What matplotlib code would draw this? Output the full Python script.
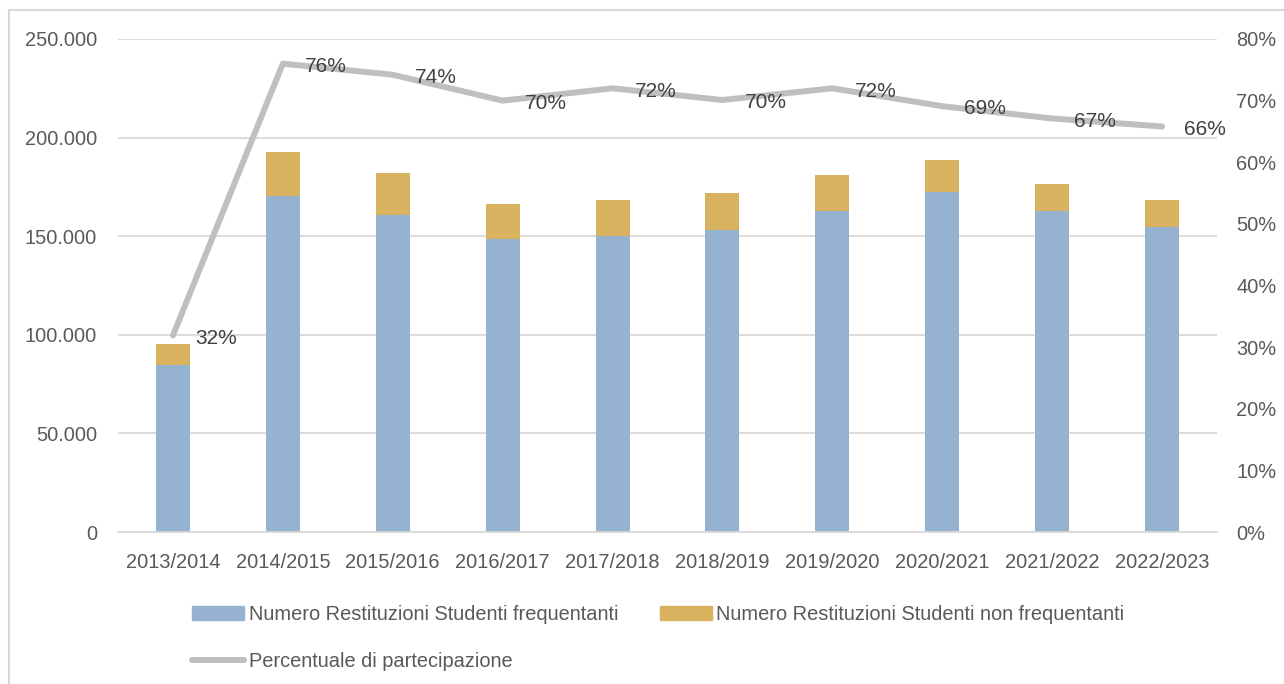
import matplotlib
matplotlib.use("Agg")
import matplotlib.pyplot as plt
from matplotlib.patches import Rectangle, Patch
from matplotlib.lines import Line2D
from matplotlib.ticker import FuncFormatter, MultipleLocator
import numpy as np

categories = ["2013/2014", "2014/2015", "2015/2016", "2016/2017", "2017/2018",
              "2018/2019", "2019/2020", "2020/2021", "2021/2022", "2022/2023"]
frequentanti = [84600, 170200, 160900, 148700, 149900, 153100, 162600, 172400, 162600, 154600]
non_frequentanti = [10900, 22400, 21200, 17600, 18400, 18600, 18400, 16200, 13800, 14000]
percentuale = [0.319, 0.760, 0.742, 0.700, 0.720, 0.701, 0.720, 0.691, 0.671, 0.658]

legend_labels = ["Numero Restituzioni Studenti frequentanti",
                 "Numero Restituzioni Studenti non frequentanti",
                 "Percentuale di partecipazione"]

FONT = ["Liberation Sans Narrow", "Liberation Sans", "DejaVu Sans"]
plt.rcParams["font.family"] = FONT
FS = 14.4
TICK_C = "#595959"
LABEL_C = "#404040"
GRID_C = "#D9D9D9"
BLUE = "#95B3D1"
GOLD = "#D8B25E"
GREY = "#BFBFBF"

fig = plt.figure(figsize=(12.84, 6.84), dpi=100)
W, H = 1284, 684
ax = fig.add_axes([118 / W, 1 - 532 / H, (1217 - 118) / W, (532 - 39) / H])

x = np.arange(len(categories))
bw = 0.31
ax.bar(x, frequentanti, width=bw, color=BLUE, zorder=2)
ax.bar(x, non_frequentanti, width=bw, bottom=frequentanti, color=GOLD, zorder=2)

ax.set_ylim(0, 250000)
ax.set_xlim(-0.5, len(categories) - 0.5)
ax.yaxis.set_major_locator(MultipleLocator(50000))
ax.yaxis.set_major_formatter(FuncFormatter(lambda v, p: f"{int(v):,}".replace(",", ".")))
ax.grid(axis="y", color=GRID_C, lw=1.3, zorder=0)
ax.set_axisbelow(True)
for s in ["top", "right", "left"]:
    ax.spines[s].set_visible(False)
ax.spines["bottom"].set_color(GRID_C)
ax.spines["bottom"].set_linewidth(1.3)
ax.set_xticks(x)
ax.set_xticklabels(categories)
ax.tick_params(axis="x", length=0, pad=15, labelsize=FS, labelcolor=TICK_C)
ax.tick_params(axis="y", length=0, pad=15, labelsize=FS, labelcolor=TICK_C)

ax2 = ax.twinx()
ax2.set_ylim(0, 0.8)
ax2.yaxis.set_major_locator(MultipleLocator(0.1))
ax2.yaxis.set_major_formatter(FuncFormatter(lambda v, p: f"{v*100:.0f}%"))
ax2.tick_params(axis="y", length=0, pad=14, labelsize=FS, labelcolor=TICK_C)
for s in ax2.spines.values():
    s.set_visible(False)
ax2.plot(x, percentuale, color=GREY, lw=4.3, solid_capstyle="round",
         solid_joinstyle="round", zorder=3)
for xi, p in zip(x, percentuale):
    ax2.annotate(f"{p*100:.0f}%", (xi, p), xytext=(16, -2), textcoords="offset points",
                 ha="left", va="center", fontsize=FS + 0.6, color=LABEL_C, zorder=4)

handles = [Patch(color=BLUE), Line2D([0], [0], color=GREY, lw=4.3, solid_capstyle="round"),
           Patch(color=GOLD)]
labels = [legend_labels[0], legend_labels[2], legend_labels[1]]
fig.legend(handles, labels, ncol=2, loc="upper left", bbox_to_anchor=(192 / W, 1 - 605 / H),
           frameon=False, fontsize=FS, labelcolor=TICK_C, handlelength=2.6,
           handleheight=0.7, handletextpad=0.25, columnspacing=2.05, labelspacing=1.38,
           borderpad=0, borderaxespad=0)

fig.add_artist(Rectangle((9 / W, -0.1), 2, 1 - 10 / H + 0.1, transform=fig.transFigure,
                         fill=False, edgecolor=GRID_C, lw=1.5))

fig.savefig("out.png", dpi=100, facecolor="white")
